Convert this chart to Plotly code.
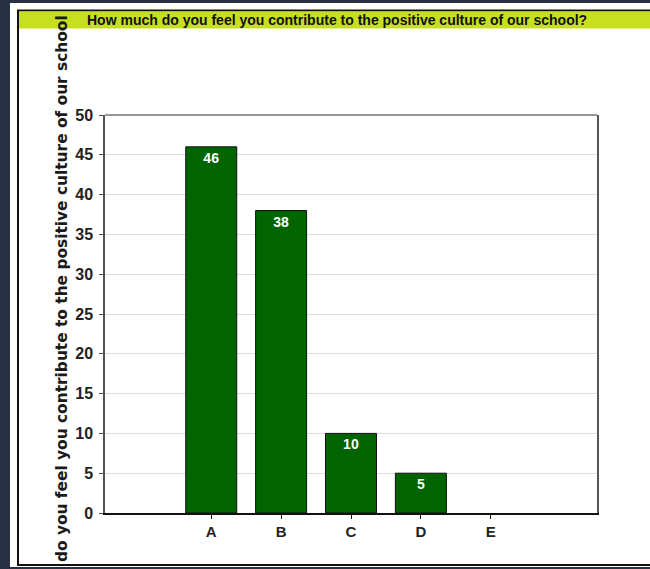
import plotly.graph_objects as go

# Survey responses
categories = ["A", "B", "C", "D", "E"]
responses = [46, 38, 10, 5, 0]
y_ticks = [0, 5, 10, 15, 20, 25, 30, 35, 40, 45, 50]

question = "How much do you feel you contribute to the positive culture of our school?"
axis_title = "do you feel you contribute to the positive culture of our school"

W, H = 650, 569
# plot area in pixels
L, R, T, B = 105, 597, 115, 513


def px(x):
    return (x - L) / (R - L)


def py(y):
    return (B - y) / (B - T)


NAVY = "#283043"
LIME = "#c6df1f"
GREEN = "#006400"
FONT = "Liberation Sans, Arial"

fig = go.Figure(
    go.Bar(
        x=categories,
        y=responses,
        width=0.73,
        marker=dict(color=GREEN,
                    line=dict(color="#111111", width=[1 if v else 0 for v in responses])),
        text=[str(v) if v else "" for v in responses],
        textposition="inside",
        insidetextanchor="end",
        textangle=0,
        textfont=dict(family=FONT, size=14, color="white", weight="bold"),
        hoverinfo="skip",
    )
)

shapes = [
    # white panel
    dict(type="rect", xref="paper", yref="paper", x0=px(10), x1=px(660), y0=py(567), y1=py(3),
         fillcolor="white", line=dict(width=0), layer="below"),
    # framed box
    dict(type="rect", xref="paper", yref="paper", x0=px(18), x1=px(662), y0=py(565), y1=py(10.5),
         fillcolor="white", line=dict(color="#111111", width=2), layer="below"),
    # title band
    dict(type="rect", xref="paper", yref="paper", x0=px(19), x1=px(660), y0=py(28.5), y1=py(11.5),
         fillcolor=LIME, line=dict(width=0), layer="below"),
    # top edge of the plot area
    dict(type="line", xref="paper", yref="paper", x0=0, x1=1, y0=1, y1=1,
         line=dict(color="#777777", width=1.5)),
]

annotations = [
    dict(text=question, xref="paper", yref="paper", x=px(337), y=py(20),
         xanchor="center", yanchor="middle", showarrow=False,
         font=dict(family=FONT, size=14, color="#111111", weight="bold")),
    dict(text=axis_title, xref="paper", yref="paper", x=px(62), y=py(289),
         xanchor="center", yanchor="middle", showarrow=False, textangle=-90,
         font=dict(family="DejaVu Sans", size=15.4, color="#1a1a1a", weight="bold")),
]

fig.update_layout(
    width=W,
    height=H,
    margin=dict(l=L, r=W - R, t=T, b=H - B, pad=0),
    paper_bgcolor=NAVY,
    plot_bgcolor="white",
    showlegend=False,
    shapes=shapes,
    annotations=annotations,
)

fig.update_xaxes(
    range=[-1.52, 5.52],
    showgrid=False,
    showline=True, linecolor="#111111", linewidth=1.5,
    ticks="outside", ticklen=4, tickcolor="#111111", tickwidth=1,
    ticklabelstandoff=0,
    tickfont=dict(family=FONT, size=15, color="#222222", weight="bold"),
    fixedrange=True,
)
fig.update_yaxes(
    range=[0, 50],
    tickvals=y_ticks,
    showgrid=True, gridcolor="#dddddd", gridwidth=1,
    zeroline=False,
    showline=True, linecolor="#555555", linewidth=1.5, mirror=True,
    ticks="outside", ticklen=4, tickcolor="#555555", tickwidth=1,
    ticklabelstandoff=3,
    tickfont=dict(family=FONT, size=16, color="#222222", weight="bold"),
    fixedrange=True,
)

fig.write_html("out.html")
